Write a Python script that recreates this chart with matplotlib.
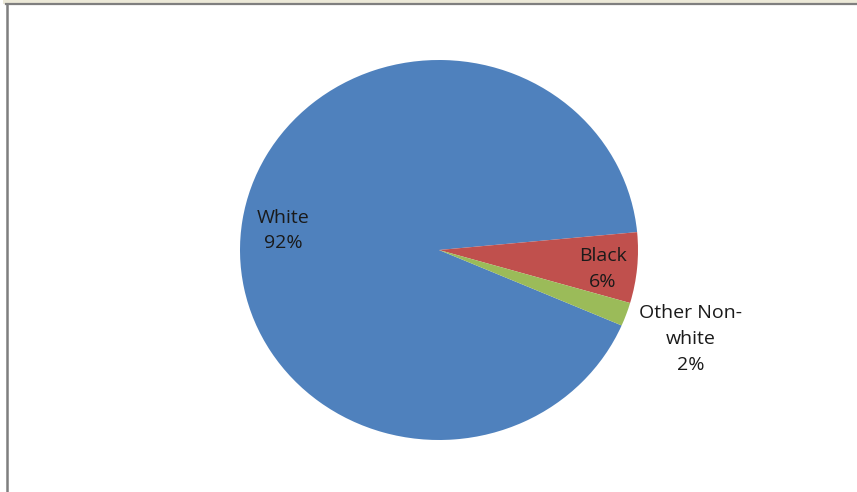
import numpy as np
import matplotlib.pyplot as plt
from matplotlib.patches import Rectangle
from matplotlib.lines import Line2D

# data
categories = ['White', 'Black', 'Other Non-\nwhite']
shares = [92, 6, 2]
colors = ['#4F81BD', '#C0504D', '#9BBB59']

# label placement: fraction of the radius, and a small angular nudge (deg)
label_dist = [0.79, 0.83, 1.35]
label_nudge = [-1.5, -1.5, -0.5]

fig = plt.figure(figsize=(8.57, 4.92), dpi=100)
fig.patch.set_facecolor('white')
ax = fig.add_axes([0, 0, 1, 1])

wedges, _ = ax.pie(shares, colors=colors, startangle=336.6, counterclock=False,
                   wedgeprops=dict(linewidth=0))

# Excel-ish slightly wide ellipse, centred at about (439, 250) px
ax.set_aspect('auto')
ax.set_xlim(-439 / 199, (857 - 439) / 199)
ax.set_ylim(-242 / 190, 250 / 190)
ax.axis('off')

for w, cat, val, r, dn in zip(wedges, categories, shares, label_dist, label_nudge):
    mid = np.deg2rad((w.theta1 + w.theta2) / 2 + (dn if np.cos(np.deg2rad((w.theta1 + w.theta2) / 2)) > 0 else -dn))
    ax.text(r * np.cos(mid), r * np.sin(mid), f'{cat}\n{val}%',
            ha='center', va='center', fontsize=14, family='Open Sans',
            color='#1a1a1a', linespacing=1.55)

# window chrome at the top and left edge
fig.patches.append(Rectangle((3 / 857, 1 - 3.5 / 492), 1, 3.5 / 492,
                             transform=fig.transFigure, facecolor='#ECE9D8',
                             edgecolor='none'))
fig.lines.append(Line2D([6 / 857, 1], [1 - 4.3 / 492, 1 - 4.3 / 492],
                        transform=fig.transFigure, color='#7f7f7f', linewidth=1.6))
fig.lines.append(Line2D([7 / 857, 7 / 857], [0, 1 - 4 / 492],
                        transform=fig.transFigure, color='#7f7f7f', linewidth=1.8))

fig.savefig('out.png', dpi=100, facecolor='white')
